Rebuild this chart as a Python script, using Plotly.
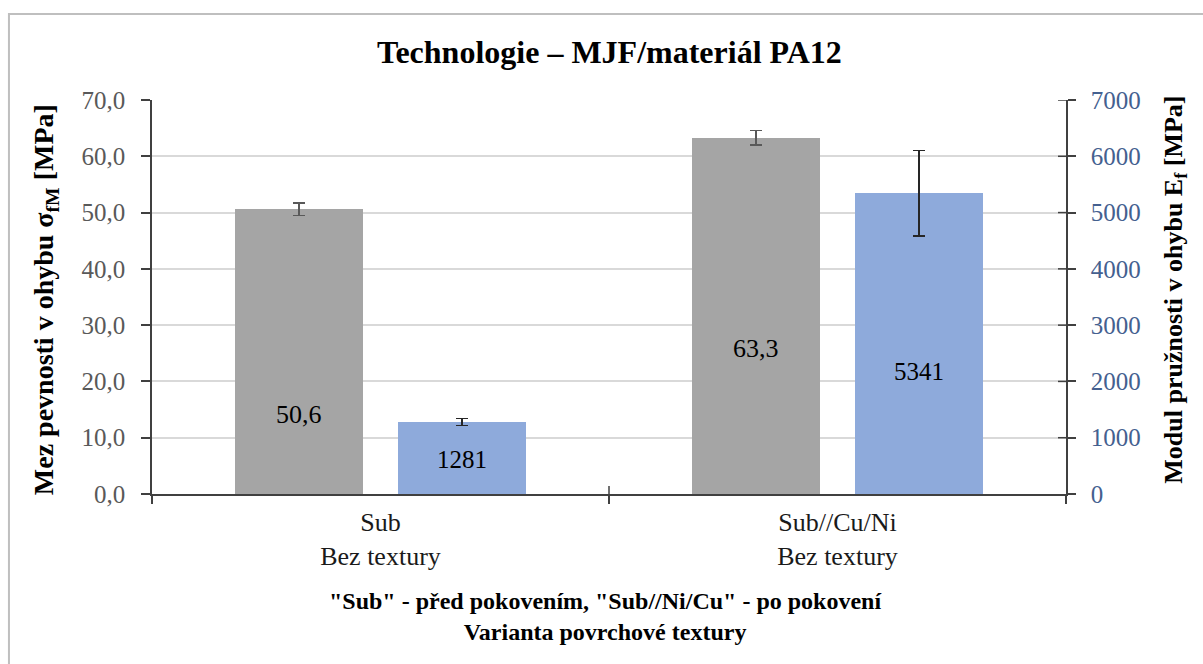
import plotly.graph_objects as go

# Data
categories = ["Sub<br>Bez textury", "Sub//Cu/Ni<br>Bez textury"]
pevnost = [50.6, 63.3]            # Mez pevnosti v ohybu [MPa] (left axis)
pevnost_err = [1.1, 1.3]
modul = [1281, 5341]              # Modul pružnosti v ohybu [MPa] (right axis)
modul_err = [60, 760]

left_ticks = [0, 10, 20, 30, 40, 50, 60, 70]
right_ticks = [0, 1000, 2000, 3000, 4000, 5000, 6000, 7000]

# Label placement inside the bars (axis units)
pevnost_label_y = [14.2, 25.9]
modul_label_y = [620, 2170]

SERIF = "Liberation Serif"
GRAY = "#a5a5a5"
BLUE = "#8eaadb"
AXIS = "#404040"
BAR_W = 0.28
SHIFT = 0.178

fig = go.Figure()
fig.add_trace(go.Bar(
    x=categories, y=pevnost, yaxis="y",
    width=BAR_W, offset=-SHIFT - BAR_W / 2,
    marker=dict(color=GRAY, line=dict(width=0)),
    error_y=dict(type="data", array=pevnost_err, color="#595959", thickness=1.5, width=6),
    showlegend=False, hoverinfo="y",
))
fig.add_trace(go.Bar(
    x=categories, y=modul, yaxis="y2",
    width=BAR_W, offset=SHIFT - BAR_W / 2,
    marker=dict(color=BLUE, line=dict(width=0)),
    error_y=dict(type="data", array=modul_err, color="#262626", thickness=1.5, width=6),
    showlegend=False, hoverinfo="y",
))

annotations = []
for i, (v, ly) in enumerate(zip(pevnost, pevnost_label_y)):
    annotations.append(dict(
        x=i - SHIFT, y=ly, xref="x", yref="y", showarrow=False,
        text=f"{v:.1f}".replace(".", ","),
        font=dict(family=SERIF, size=26, color="#000000"),
    ))
for i, (v, ly) in enumerate(zip(modul, modul_label_y)):
    annotations.append(dict(
        x=i + SHIFT, y=ly, xref="x", yref="y2", showarrow=False,
        text=f"{v:d}",
        font=dict(family=SERIF, size=25, color="#000000"),
    ))

# Title and axis titles
annotations += [
    dict(text="<b>Technologie – MJF/materiál PA12</b>", x=0.5, y=1.122,
         xref="paper", yref="paper", showarrow=False, xanchor="center", yanchor="middle",
         font=dict(family=SERIF, size=32, color="#000000")),
    dict(text="<b>Mez pevnosti v ohybu σ<sub>fM</sub> [MPa]</b>", x=-0.117, y=0.492,
         xref="paper", yref="paper", showarrow=False, textangle=-90,
         xanchor="center", yanchor="middle",
         font=dict(family=SERIF, size=28, color="#000000")),
    dict(text="<b>Modul pružnosti v ohybu E<sub>f</sub> [MPa]</b>", x=1.119, y=0.518,
         xref="paper", yref="paper", showarrow=False, textangle=-90,
         xanchor="center", yanchor="middle",
         font=dict(family=SERIF, size=26, color="#000000")),
    dict(text="<b>\"Sub\" - před pokovením, \"Sub//Ni/Cu\" - po pokovení<br>Varianta povrchové textury</b>",
         x=0.4956, y=-0.311, xref="paper", yref="paper", showarrow=False,
         xanchor="center", yanchor="middle",
         font=dict(family=SERIF, size=24, color="#000000")),
]

# Short tick marks on the inner side, so the ticks cross the axis lines
shapes = [dict(type="rect", xref="paper", yref="paper",
               x0=-0.1565, x1=1.3, y0=-0.6, y1=1.218,
               line=dict(color="#bfbfbf", width=2), fillcolor="rgba(0,0,0,0)", layer="below")]
for b in [0.5]:
    shapes.append(dict(type="line", xref="x", yref="paper", x0=b, x1=b, y0=0, y1=8 / 394,
                       line=dict(color=AXIS, width=1.5)))
for t in right_ticks[1:]:
    shapes.append(dict(type="line", xref="paper", yref="y2", x0=1 - 8 / 914, x1=1, y0=t, y1=t,
                       line=dict(color=AXIS, width=1.5)))

fig.update_layout(
    width=1203, height=664,
    margin=dict(l=152, r=137, t=100, b=170),
    paper_bgcolor="white", plot_bgcolor="white",
    font=dict(family=SERIF),
    separators=", ",
    bargap=0,
    annotations=annotations,
    shapes=shapes,
    xaxis=dict(
        type="category", categoryorder="array", categoryarray=categories,
        range=[-0.5, 1.5], tickson="boundaries",
        showline=True, linecolor=AXIS, linewidth=1.5,
        ticks="outside", ticklen=8, tickcolor=AXIS, tickwidth=1.5,
        ticklabelstandoff=4,
        showgrid=False, zeroline=False,
        tickfont=dict(family=SERIF, size=26, color="#1a1a1a"),
    ),
    yaxis=dict(
        range=[0, 70], tickvals=left_ticks, tickformat=".1f",
        showline=True, linecolor=AXIS, linewidth=1.5,
        ticks="outside", ticklen=9, tickcolor=AXIS, tickwidth=1.5,
        ticklabelstandoff=11,
        showgrid=True, gridcolor="#d9d9d9", gridwidth=1.5, zeroline=False,
        tickfont=dict(family=SERIF, size=25, color="#595959"),
    ),
    yaxis2=dict(
        range=[0, 7000], tickvals=right_ticks, tickformat="d",
        overlaying="y", side="right",
        showline=True, linecolor=AXIS, linewidth=1.5,
        ticks="outside", ticklen=8, tickcolor=AXIS, tickwidth=1.5,
        ticklabelstandoff=10,
        showgrid=False, zeroline=False,
        tickfont=dict(family=SERIF, size=25, color="#44608f"),
    ),
)

fig.write_html("out.html")
